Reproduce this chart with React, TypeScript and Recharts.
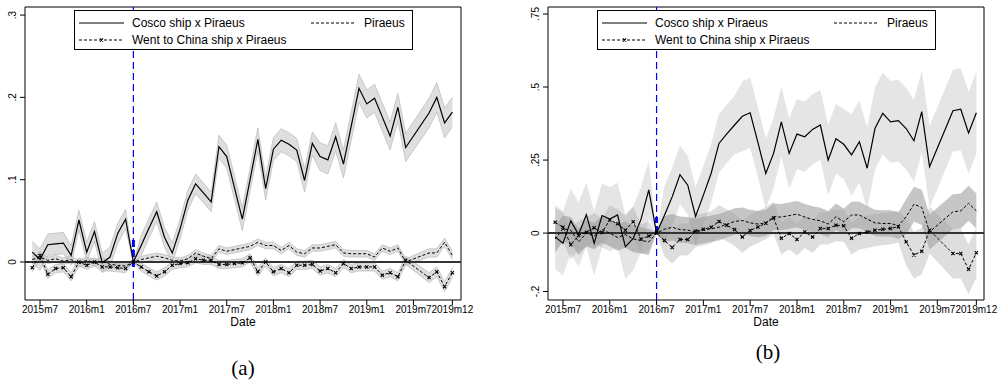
import {
  Area,
  ComposedChart,
  Line,
  ReferenceArea,
  ReferenceLine,
  XAxis,
  YAxis,
} from "recharts";

// months since 2015m7 (t = 0), 2015m6 .. 2019m12
const months = [
  -1, 0, 1, 2, 3, 4, 5, 6, 7, 8, 9, 10, 11, 12, 13, 14, 15, 16, 17, 18, 19,
  20, 21, 22, 23, 24, 25, 26, 27, 28, 29, 30, 31, 32, 33, 34, 35, 36, 37, 38,
  39, 40, 41, 42, 43, 44, 45, 46, 47, 48, 49, 50, 51, 52, 53,
];

const tickMonths = [0, 6, 12, 18, 24, 30, 36, 42, 48, 53];
const tickLabels = [
  "2015m7", "2016m1", "2016m7", "2017m1", "2017m7",
  "2018m1", "2018m7", "2019m1", "2019m7", "2019m12",
];

// panel (a)
const coscoA = [
  0.012, 0.003, 0.021, 0.022, 0.023, 0.008, 0.051, 0.012, 0.037, -0.001, 0.006, 0.035, 0.052, 0,
  0.02, 0.041, 0.061, 0.03, 0.011, 0.04, 0.075, 0.095, 0.084, 0.073, 0.14, 0.128, 0.09, 0.052,
  0.1, 0.149, 0.089, 0.137, 0.148, 0.143, 0.136, 0.099, 0.144, 0.128, 0.124, 0.152, 0.119, 0.165,
  0.211, 0.192, 0.199, 0.176, 0.153, 0.188, 0.139, null, null, 0.181, 0.2, 0.169, 0.182,
];
const piraeusA = [
  0.003, 0.006, 0.002, 0.004, 0.001, 0.003, -0.002, 0.002, -0.001, 0.001, -0.003, -0.004, -0.005, 0,
  0.003, 0.005, 0.007, 0.005, 0.002, 0.001, 0.004, 0.011, 0.007, 0.004, 0.016, 0.013, 0.015, 0.017,
  0.019, 0.024, 0.02, 0.02, 0.014, 0.02, 0.012, 0.01, 0.017, 0.017, 0.019, 0.021, 0.011, 0.01,
  0.01, 0.01, 0.006, 0.017, 0.013, 0.017, 0, null, null, 0.011, 0.011, 0.024, 0.008,
];
const wentA = [
  -0.007, 0.008, -0.015, -0.008, -0.007, -0.018, 0, -0.004, 0, -0.006, -0.006, -0.007, -0.008, 0,
  -0.006, -0.012, -0.017, -0.012, -0.004, -0.002, -0.001, 0.004, 0.002, 0.002, -0.003, -0.003, -0.002, -0.001,
  0.005, -0.012, 0, -0.012, -0.008, -0.013, -0.004, -0.004, -0.003, -0.011, -0.008, -0.013, -0.002, -0.008,
  -0.006, -0.006, -0.006, -0.016, -0.013, -0.018, 0.002, null, null, -0.019, -0.012, -0.03, -0.013,
];
// half widths of the 95% bands
const coscoCiA = [
  0.013, 0.013, 0.013, 0.013, 0.013, 0.012, 0.012, 0.012, 0.012, 0.012, 0.012, 0.012, 0.012, 0,
  0.012, 0.012, 0.012, 0.012, 0.012, 0.012, 0.012, 0.012, 0.012, 0.012, 0.014, 0.014, 0.014, 0.014,
  0.014, 0.014, 0.014, 0.014, 0.014, 0.014, 0.014, 0.014, 0.014, 0.017, 0.017, 0.017, 0.017, 0.017,
  0.017, 0.017, 0.017, 0.017, 0.017, 0.017, 0.017, null, null, 0.018, 0.018, 0.018, 0.018,
];
const piraeusCiA = [
  0.004, 0.004, 0.004, 0.004, 0.004, 0.004, 0.004, 0.004, 0.004, 0.004, 0.004, 0.004, 0.004, 0,
  0.004, 0.004, 0.004, 0.004, 0.004, 0.004, 0.004, 0.004, 0.004, 0.004, 0.004, 0.004, 0.004, 0.004,
  0.004, 0.004, 0.004, 0.004, 0.004, 0.004, 0.004, 0.004, 0.004, 0.004, 0.004, 0.004, 0.004, 0.004,
  0.004, 0.004, 0.004, 0.004, 0.004, 0.004, 0.004, null, null, 0.005, 0.005, 0.005, 0.005,
];
const wentCiA = [
  0.005, 0.005, 0.005, 0.005, 0.005, 0.005, 0.005, 0.005, 0.005, 0.005, 0.005, 0.005, 0.005, 0,
  0.005, 0.005, 0.005, 0.005, 0.005, 0.005, 0.005, 0.005, 0.005, 0.005, 0.005, 0.005, 0.005, 0.005,
  0.005, 0.005, 0.005, 0.005, 0.005, 0.005, 0.005, 0.005, 0.005, 0.005, 0.005, 0.005, 0.005, 0.005,
  0.005, 0.005, 0.005, 0.005, 0.005, 0.005, 0.005, null, null, 0.006, 0.006, 0.006, 0.006,
];

// panel (b)
const coscoB = [
  -0.013, -0.035, 0.042, -0.005, 0.063, -0.035, 0.06, 0.048, 0.062, -0.047, -0.018, 0.047, 0.148, 0,
  0.06, 0.124, 0.2, 0.164, 0.057, 0.13, 0.205, 0.307, 0.34, 0.37, 0.4, 0.412, 0.31, 0.204,
  0.273, 0.381, 0.273, 0.339, 0.33, 0.355, 0.37, 0.25, 0.323, 0.304, 0.268, 0.313, 0.222, 0.358,
  0.41, 0.381, 0.385, 0.358, 0.316, 0.416, 0.227, null, null, 0.419, 0.424, 0.343, 0.412,
];
const piraeusB = [
  -0.02, 0.015, 0.01, -0.03, 0, -0.01, 0.012, 0, -0.015, -0.005, -0.02, -0.025, -0.03, 0,
  0.013, 0.02, 0.012, 0.01, 0.004, 0.01, 0.015, 0.02, 0.03, 0.04, 0.043, 0.035, 0.031, 0.035,
  0.056, 0.055, 0.06, 0.065, 0.055, 0.047, 0.042, 0.031, 0.056, 0.039, 0.062, 0.062, 0.048, 0.035,
  0.033, 0.033, 0.025, 0.056, 0.099, 0.088, 0.004, null, null, 0.073, 0.076, 0.102, 0.076,
];
const wentB = [
  0.037, 0.02, -0.04, -0.008, 0.003, 0.018, 0.002, 0.045, 0.032, 0.01, 0.039, -0.02, -0.01, 0,
  -0.025, -0.049, -0.022, -0.022, 0.007, 0.013, 0.02, 0.04, 0.027, 0.012, -0.013, 0.009, 0.021, 0.034,
  0.052, -0.018, -0.001, -0.022, 0.004, -0.013, 0.016, 0.016, 0.027, 0.025, -0.018, -0.001, 0.004, 0.01,
  0.013, 0.016, 0.022, -0.03, -0.075, -0.062, 0.01, null, null, -0.07, -0.07, -0.124, -0.067,
];
const coscoCiB = [
  0.11, 0.11, 0.11, 0.11, 0.11, 0.11, 0.11, 0.11, 0.11, 0.11, 0.11, 0.11, 0.1, 0,
  0.1, 0.1, 0.1, 0.1, 0.1, 0.1, 0.1, 0.1, 0.1, 0.1, 0.12, 0.12, 0.12, 0.12,
  0.12, 0.12, 0.12, 0.12, 0.12, 0.12, 0.12, 0.12, 0.12, 0.12, 0.14, 0.14, 0.14, 0.14,
  0.14, 0.14, 0.14, 0.14, 0.14, 0.14, 0.14, null, null, 0.14, 0.14, 0.14, 0.14,
];
const piraeusCiB = [
  0.045, 0.045, 0.045, 0.045, 0.045, 0.045, 0.045, 0.045, 0.045, 0.045, 0.045, 0.045, 0.045, 0,
  0.045, 0.045, 0.045, 0.045, 0.045, 0.045, 0.045, 0.045, 0.045, 0.045, 0.045, 0.045, 0.045, 0.045,
  0.045, 0.045, 0.045, 0.045, 0.045, 0.045, 0.045, 0.045, 0.045, 0.045, 0.045, 0.045, 0.045, 0.045,
  0.045, 0.045, 0.045, 0.06, 0.06, 0.06, 0.06, null, null, 0.06, 0.06, 0.06, 0.06,
];
const wentCiB = [
  0.05, 0.05, 0.05, 0.05, 0.05, 0.05, 0.05, 0.05, 0.05, 0.05, 0.05, 0.05, 0.05, 0,
  0.055, 0.055, 0.055, 0.055, 0.055, 0.055, 0.055, 0.055, 0.055, 0.055, 0.055, 0.055, 0.055, 0.055,
  0.055, 0.055, 0.055, 0.055, 0.055, 0.055, 0.055, 0.055, 0.055, 0.055, 0.055, 0.055, 0.055, 0.055,
  0.055, 0.055, 0.055, 0.08, 0.08, 0.08, 0.08, null, null, 0.085, 0.085, 0.085, 0.085,
];

const yTicksA = [0, 0.1, 0.2, 0.3];
const yLabelsA = ["0", ".1", ".2", ".3"];
const yTicksB = [-0.2, 0, 0.25, 0.5, 0.75];
const yLabelsB = ["-.2", "0", ".25", ".5", ".75"];

const FONT = "'Liberation Sans', Arial, sans-serif";

type Num = number | null;

function band(v: Num, hw: Num) {
  if (v == null || hw == null) return null;
  return [v - hw, v + hw];
}

function buildRows(cosco: Num[], piraeus: Num[], went: Num[], cCi: Num[], pCi: Num[], wCi: Num[]) {
  return months.map((t, i) => ({
    t,
    cosco: cosco[i],
    piraeus: piraeus[i],
    went: went[i],
    coscoBand: band(cosco[i], cCi[i]),
    piraeusBand: band(piraeus[i], pCi[i]),
    wentBand: band(went[i], wCi[i]),
  }));
}

const rowsA = buildRows(coscoA, piraeusA, wentA, coscoCiA, piraeusCiA, wentCiA);
const rowsB = buildRows(coscoB, piraeusB, wentB, coscoCiB, piraeusCiB, wentCiB);

function CrossDot(props: any) {
  const { cx, cy, index } = props;
  if (cx == null || cy == null || Number.isNaN(cy)) return <g key={`x${index}`} />;
  const s = 1.6;
  return (
    <path
      key={`x${index}`}
      d={`M${cx - s},${cy - s}L${cx + s},${cy + s}M${cx - s},${cy + s}L${cx + s},${cy - s}`}
      stroke="#000"
      strokeWidth={1.1}
    />
  );
}

function Legend({ left }: { left: number }) {
  return (
    <svg
      width={340}
      height={41}
      style={{ position: "absolute", left, top: 10, fontFamily: FONT }}
    >
      <rect x={0.5} y={0.5} width={338} height={39} fill="#fff" stroke="#000" />
      <line x1={5} x2={50} y1={13} y2={13} stroke="#000" strokeWidth={1.2} />
      <text x={58} y={13} fontSize={12} dominantBaseline="central">Cosco ship x Piraeus</text>
      <line x1={237} x2={281} y1={13} y2={13} stroke="#000" strokeDasharray="3 2" />
      <text x={290} y={13} fontSize={12} dominantBaseline="central">Piraeus</text>
      <line x1={5} x2={50} y1={30} y2={30} stroke="#000" strokeDasharray="3 2" />
      <CrossDot cx={27.5} cy={30} index={0} />
      <text x={58} y={30} fontSize={12} dominantBaseline="central">Went to China ship x Piraeus</text>
    </svg>
  );
}

interface PanelProps {
  rows: ReturnType<typeof buildRows>;
  xDomain: [number, number];
  yDomain: [number, number];
  yTicks: number[];
  yLabels: string[];
  width: number;
  marginRight: number;
  blueSeg: [number, number];
  fills: { cosco: string; piraeus: string; went: string };
  opacity: { cosco: number; piraeus: number; went: number };
  bandStroke: string;
}

function Panel(p: PanelProps) {
  return (
    <ComposedChart
      width={p.width}
      height={340}
      data={p.rows}
      margin={{ top: 7, right: p.marginRight, left: 0, bottom: 8 }}
    >
      <XAxis
        type="number"
        dataKey="t"
        domain={p.xDomain}
        allowDataOverflow
        ticks={tickMonths}
        interval={0}
        tickFormatter={(v) => tickLabels[tickMonths.indexOf(Number(v))] ?? ""}
        axisLine={false}
        tickSize={5}
        tickMargin={1}
        tickLine={{ stroke: "#000" }}
        tick={{ fill: "#000", fontSize: 10, fontFamily: FONT }}
        height={32}
      />
      <YAxis
        type="number"
        domain={p.yDomain}
        allowDataOverflow
        ticks={p.yTicks}
        interval={0}
        width={25}
        axisLine={false}
        tickSize={5}
        tickLine={{ stroke: "#000" }}
        tick={(tp: any) => {
          const i = p.yTicks.indexOf(Number(tp.payload.value));
          return (
            <text
              x={13}
              y={tp.y}
              transform={`rotate(-90 13 ${tp.y})`}
              textAnchor="middle"
              dominantBaseline="central"
              fontSize={10}
              fontFamily={FONT}
              fill="#000"
            >
              {p.yLabels[i]}
            </text>
          );
        }}
      />
      <Area
        dataKey="coscoBand"
        type="linear"
        fill={p.fills.cosco}
        fillOpacity={p.opacity.cosco}
        stroke={p.bandStroke}
        strokeWidth={0.6}
        connectNulls
        isAnimationActive={false}
      />
      <Area
        dataKey="piraeusBand"
        type="linear"
        fill={p.fills.piraeus}
        fillOpacity={p.opacity.piraeus}
        stroke={p.bandStroke}
        strokeWidth={0.6}
        connectNulls
        isAnimationActive={false}
      />
      <Area
        dataKey="wentBand"
        type="linear"
        fill={p.fills.went}
        fillOpacity={p.opacity.went}
        stroke={p.bandStroke}
        strokeWidth={0.6}
        connectNulls
        isAnimationActive={false}
      />
      <ReferenceLine y={0} stroke="#333" strokeWidth={2} />
      <ReferenceLine x={12} stroke="#0000ff" strokeWidth={1.2} strokeDasharray="7 4" />
      <ReferenceLine
        segment={[{ x: 12, y: p.blueSeg[0] }, { x: 12, y: p.blueSeg[1] }]}
        stroke="#0000ff"
        strokeWidth={3}
        strokeDasharray="7 3"
      />
      <Line
        dataKey="cosco"
        type="linear"
        stroke="#000"
        strokeWidth={1.2}
        dot={false}
        connectNulls
        isAnimationActive={false}
      />
      <Line
        dataKey="piraeus"
        type="linear"
        stroke="#000"
        strokeWidth={1}
        strokeDasharray="3 2"
        dot={false}
        connectNulls
        isAnimationActive={false}
      />
      <Line
        dataKey="went"
        type="linear"
        stroke="#000"
        strokeWidth={1}
        strokeDasharray="3 2"
        dot={(dp: any) => <CrossDot {...dp} />}
        connectNulls
        isAnimationActive={false}
      />
      <ReferenceArea
        x1={p.xDomain[0]}
        x2={p.xDomain[1]}
        y1={p.yDomain[0]}
        y2={p.yDomain[1]}
        fill="none"
        stroke="#000"
        strokeWidth={1}
        ifOverflow="visible"
      />
    </ComposedChart>
  );
}

const textStyle = { position: "absolute" as const, fontFamily: FONT, fontSize: 12, transform: "translateX(-50%)" };
const capStyle = {
  position: "absolute" as const,
  fontFamily: "'Liberation Serif', 'DejaVu Serif', serif",
  fontSize: 21,
  transform: "translateX(-50%)",
};

export default function App() {
  return (
    <div
      style={{
        position: "absolute",
        left: 0,
        top: 0,
        width: 1002,
        height: 384,
        background: "#fff",
        overflow: "hidden",
        fontFamily: FONT,
      }}
    >
      <div style={{ position: "absolute", left: 0, top: 0 }}>
        <Panel
          rows={rowsA}
          xDomain={[-1.93, 54.11]}
          yDomain={[-0.0462, 0.3098]}
          yTicks={yTicksA}
          yLabels={yLabelsA}
          width={500}
          marginRight={39}
          blueSeg={[-0.006, 0.028]}
          fills={{ cosco: "#c8c8c8", piraeus: "#c8c8c8", went: "#c8c8c8" }}
          opacity={{ cosco: 0.6, piraeus: 0.6, went: 0.6 }}
          bandStroke="#b0b0b0"
        />
      </div>
      <div style={{ position: "absolute", left: 523, top: 0 }}>
        <Panel
          rows={rowsB}
          xDomain={[-1.92, 53.98]}
          yDomain={[-0.229, 0.774]}
          yTicks={yTicksB}
          yLabels={yLabelsB}
          width={479}
          marginRight={18}
          blueSeg={[0, 0.055]}
          fills={{ cosco: "#a8a8a8", piraeus: "#808080", went: "#a0a0a0" }}
          opacity={{ cosco: 0.3, piraeus: 0.45, went: 0.35 }}
          bandStroke="none"
        />
      </div>
      <Legend left={74} />
      <Legend left={597} />
      <div style={{ ...textStyle, left: 243, top: 315 }}>Date</div>
      <div style={{ ...textStyle, left: 766, top: 315 }}>Date</div>
      <div style={{ ...capStyle, left: 243, top: 356 }}>(a)</div>
      <div style={{ ...capStyle, left: 768, top: 340 }}>(b)</div>
    </div>
  );
}
